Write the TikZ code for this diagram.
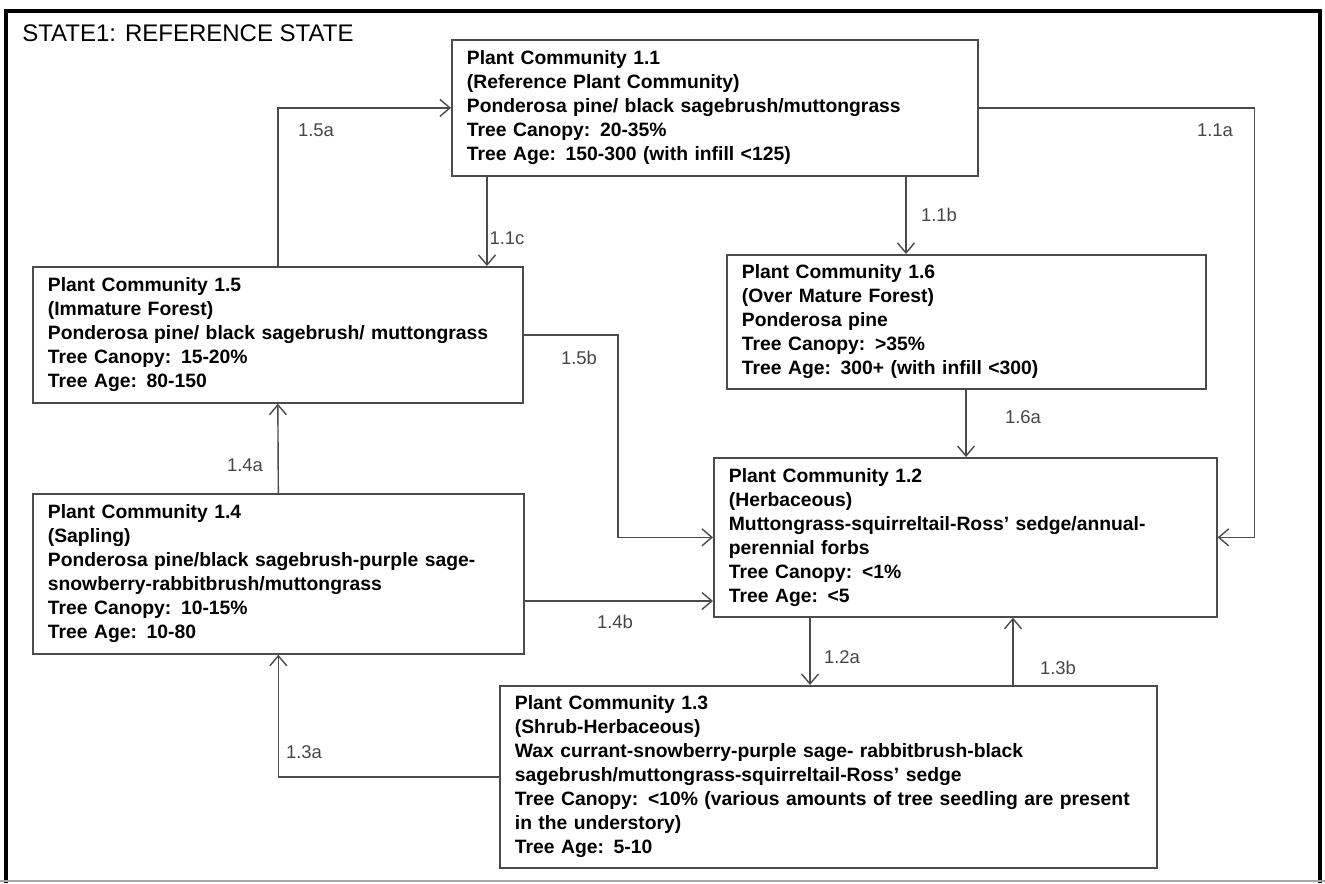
\documentclass[tikz,border=0pt]{standalone}
\usepackage{fontspec}
\setmainfont{Liberation Sans}
\usepackage{xcolor}
\usepackage{tikz}
\usetikzlibrary{arrows.meta, positioning, calc}
\definecolor{linegray}{RGB}{75, 75, 75}
\definecolor{labelgray}{RGB}{70, 70, 70}
\newcommand{\pcfont}{\fontsize{11}{13.66}\selectfont\bfseries}
\newcommand{\lblfont}{\fontsize{10.5}{12}\selectfont}
\newcommand{\ttlfont}{\fontsize{13.66}{16}\selectfont}

\begin{document}
\begin{tikzpicture}[
    x=0.02cm, y=-0.02cm, % one unit = one pixel of the original sheet
    pcbox/.style={rectangle, draw=linegray, line width=1pt, anchor=north west,
                  align=left, inner xsep=0.3cm, inner ysep=0pt, font=\pcfont},
    arrow/.style={-{Straight Barb[length=2mm,width=3.4mm]}, line width=0.8pt, color=linegray},
    lbl/.style={font=\lblfont, text=labelgray, inner sep=0pt},
    frame/.style={line width=2.8pt, black}
]
\useasboundingbox (0,0) rectangle (1325,883);
\draw[frame] (6,883) -- (6,11) -- (1320,11) -- (1320,883);
\draw[black!35, line width=0.6pt] (0,881) -- (1325,881);

\node[anchor=west, font=\ttlfont, inner sep=0pt] (title) at (22,33) {STATE1: REFERENCE STATE};

% plant communities
\node[pcbox, text width=9.92cm, minimum height=2.72cm] (pc11) at (451,39)
    {Plant Community 1.1\\(Reference Plant Community)\\Ponderosa pine/ black sagebrush/muttongrass\\Tree Canopy: 20-35\%\\Tree Age: 150-300 (with infill <125)};
\node[pcbox, text width=9.2cm, minimum height=2.72cm] (pc15) at (32,266)
    {Plant Community 1.5\\(Immature Forest)\\Ponderosa pine/ black sagebrush/ muttongrass\\Tree Canopy: 15-20\%\\Tree Age: 80-150};
\node[pcbox, text width=8.98cm, minimum height=2.68cm] (pc16) at (726,254)
    {Plant Community 1.6\\(Over Mature Forest)\\Ponderosa pine\\Tree Canopy: >35\%\\Tree Age: 300+ (with infill <300)};
\node[pcbox, text width=9.46cm, minimum height=3.18cm] (pc12) at (713,457)
    {Plant Community 1.2\\(Herbaceous)\\Muttongrass-squirreltail-Ross’ sedge/annual-\\perennial forbs\\Tree Canopy: <1\%\\Tree Age: <5};
\node[pcbox, text width=9.22cm, minimum height=3.2cm] (pc14) at (32,493)
    {Plant Community 1.4\\(Sapling)\\Ponderosa pine/black sagebrush-purple sage-\\snowberry-rabbitbrush/muttongrass\\Tree Canopy: 10-15\%\\Tree Age: 10-80};
\node[pcbox, text width=12.54cm, minimum height=3.64cm] (pc13) at (499,685)
    {Plant Community 1.3\\(Shrub-Herbaceous)\\Wax currant-snowberry-purple sage- rabbitbrush-black\\sagebrush/muttongrass-squirreltail-Ross’ sedge\\Tree Canopy: <10\% (various amounts of tree seedling are present\\in the understory)\\Tree Age: 5-10};

% transitions
\draw[arrow] (pc15.north) |- (pc11.west);
\draw[arrow] (pc11.south -| 487,0) -- (pc15.north -| 487,0);
\draw[arrow] (pc11.south -| 906,0) -- (pc16.north -| 906,0);
\draw[arrow] (pc11.east) -| ($(pc12.east)+(37,0)$) -- (pc12.east);
\draw[arrow] (pc16.south -| 966,0) -- (pc12.north -| 966,0);
\draw[arrow] (pc15.east) -- (pc15.east -| 618,0) |- (pc12.west);
\draw[arrow] (pc14.north) -- (pc15.south);
\draw[arrow] (pc14.east |- 0,601) -- (pc12.west |- 0,601);
\draw[arrow] (pc12.south -| 810,0) -- (pc13.north -| 810,0);
\draw[arrow] (pc13.north -| 1013,0) -- (pc12.south -| 1013,0);
\draw[arrow] (pc13.west) -| (pc14.south);

\node[lbl] (l15a) at (316,130) {1.5a};
\node[lbl] (l11c) at (507,238) {1.1c};
\node[lbl] (l11a) at (1215,130) {1.1a};
\node[lbl] (l11b) at (939,215) {1.1b};
\node[lbl] (l16a) at (1023,417) {1.6a};
\node[lbl] (l15b) at (579,358) {1.5b};
\node[lbl] (l14a) at (245,465) {1.4a};
\node[lbl] (l14b) at (615,622) {1.4b};
\node[lbl] (l12a) at (842,657) {1.2a};
\node[lbl] (l13b) at (1058,668) {1.3b};
\node[lbl] (l13a) at (304,752) {1.3a};
\end{tikzpicture}
\end{document}
